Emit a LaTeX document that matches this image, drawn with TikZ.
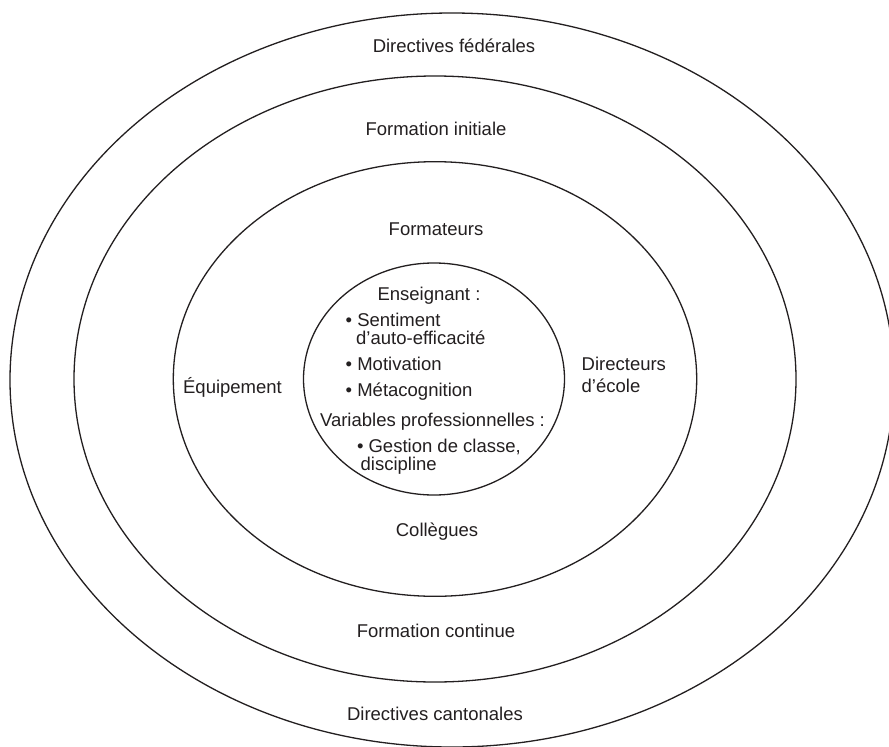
\documentclass[tikz,border=0pt]{standalone}
\usepackage{fontspec}
\setmainfont{Liberation Sans}
\usetikzlibrary{shapes.geometric}
\definecolor{ink}{HTML}{231F20}
\tikzset{
  ring/.style={draw=ink, line width=1.3pt, ellipse, inner sep=0pt, outer sep=0pt},
  lbl/.style={text=ink, inner sep=0pt, font=\fontsize{18.5}{22}\selectfont},
}
\begin{document}
\begin{tikzpicture}[x=1pt, y=-1pt]
\useasboundingbox (0,0) rectangle (889,747);
\clip (0,0) rectangle (889,747);
\fill[white] (0,0) rectangle (889,747);
% rings
\node[ring, minimum width=884pt, minimum height=734pt] (outer) at (452,380) {};
\node[ring, minimum width=722pt, minimum height=606pt] (second) at (435,379) {};
\node[ring, minimum width=523.4pt, minimum height=434.6pt] (third) at (435,379) {};
\node[ring, minimum width=261pt, minimum height=232pt] (inner) at (434,379) {};
% ring labels
\node[lbl, anchor=base] (fed) at (454,52.3) {Directives fédérales};
\node[lbl, anchor=base] (finit) at (436,135) {Formation initiale};
\node[lbl, anchor=base] (form) at (436,235) {Formateurs};
\node[lbl, anchor=base] (equip) at (232.5,393.3) {Équipement};
\node[lbl, anchor=base west] (dir1) at (581.5,370.7) {Directeurs};
\node[lbl, anchor=base west] (dir2) at (581.5,392.7) {d’école};
\node[lbl, anchor=base] (coll) at (437,536) {Collègues};
\node[lbl, anchor=base] (fcont) at (436,637.7) {Formation continue};
\node[lbl, anchor=base] (cant) at (435,720.7) {Directives cantonales};
% inner text
\node[lbl, anchor=base] (ens) at (429,300.7) {Enseignant :};
\node[lbl, anchor=base west] (s1) at (345.5,326) {• Sentiment};
\node[lbl, anchor=base west] (s2) at (356,344) {d’auto-efficacité};
\node[lbl, anchor=base west] (mot) at (345.5,370.7) {• Motivation};
\node[lbl, anchor=base west] (meta) at (345.5,396) {• Métacognition};
\node[lbl, anchor=base] (var) at (432.5,426.7) {Variables professionnelles :};
\node[lbl, anchor=base west] (g1) at (356.8,452.7) {• Gestion de classe,};
\node[lbl, anchor=base west] (g2) at (360.5,470) {discipline};
\end{tikzpicture}
\end{document}
